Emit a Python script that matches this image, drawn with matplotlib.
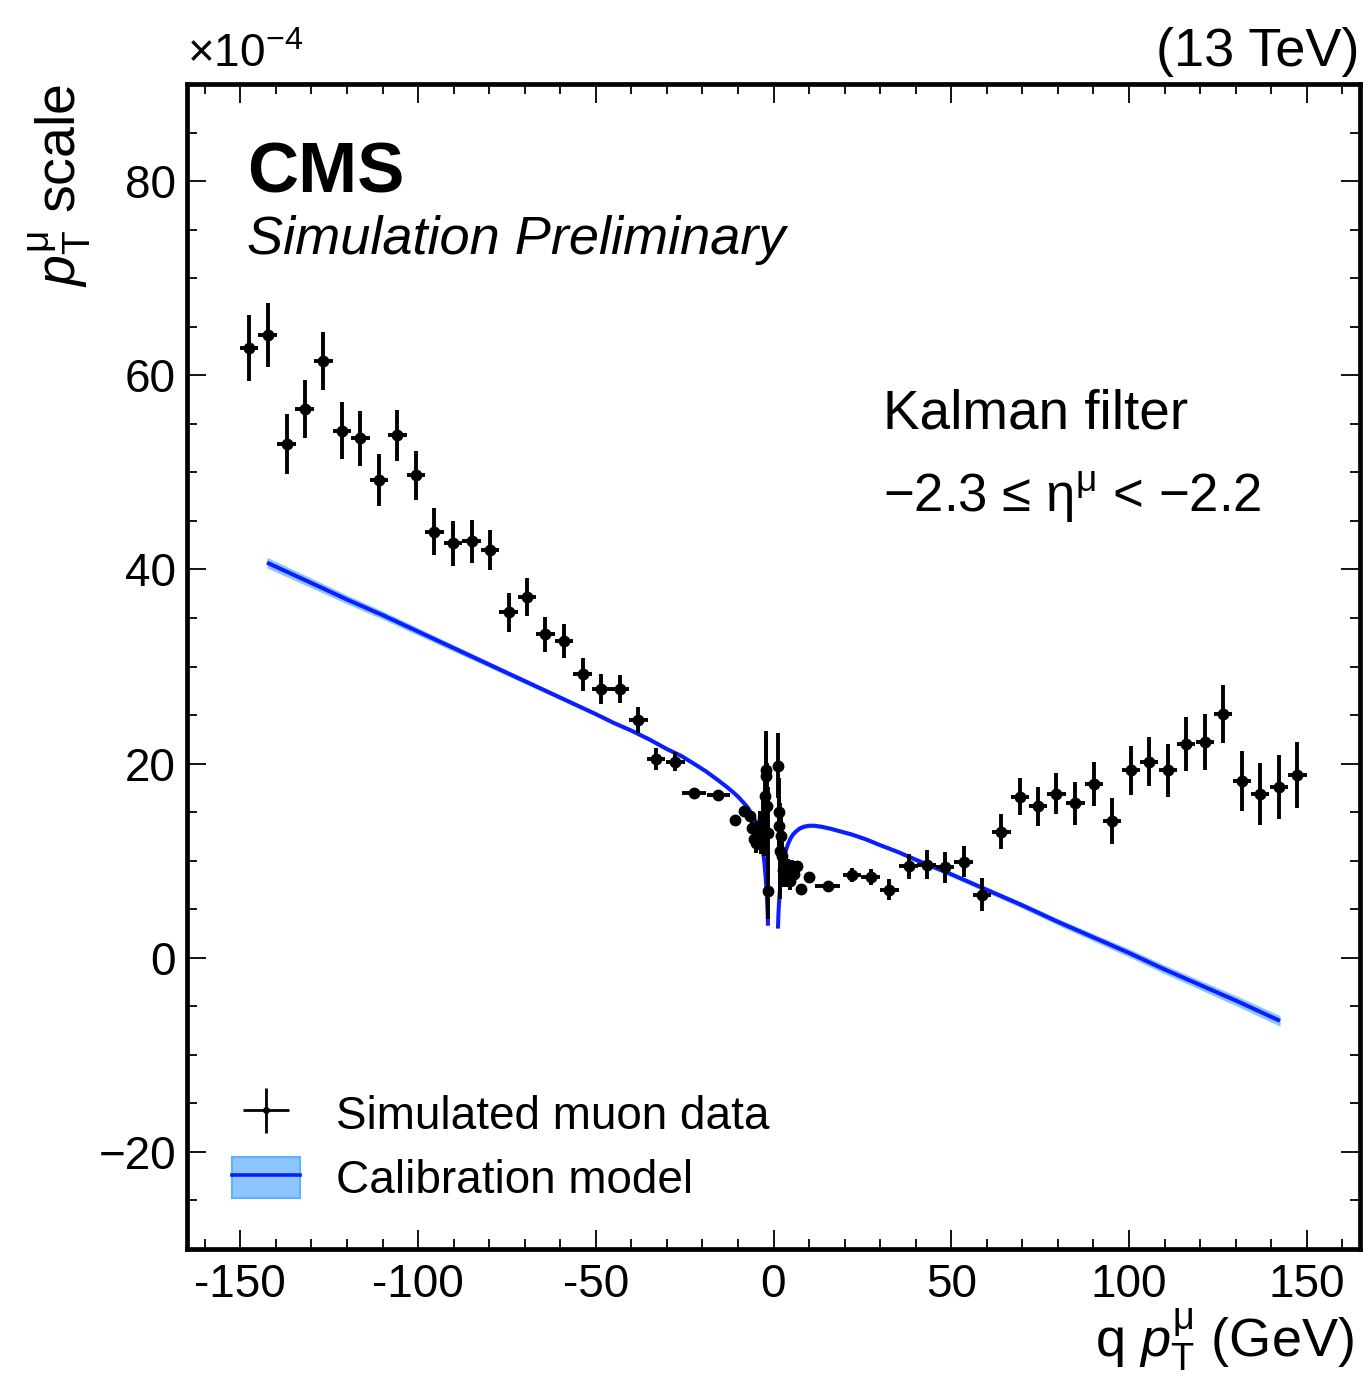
import matplotlib
matplotlib.use("Agg")
import matplotlib.pyplot as plt
import numpy as np
from matplotlib.ticker import MultipleLocator
from matplotlib.patches import Patch
from matplotlib.lines import Line2D

plt.rcParams['font.family'] = ['Liberation Sans', 'DejaVu Sans']
plt.rcParams['mathtext.fontset'] = 'custom'
plt.rcParams['mathtext.rm'] = 'Liberation Sans'
plt.rcParams['mathtext.it'] = 'Liberation Sans:italic'
plt.rcParams['mathtext.bf'] = 'Liberation Sans:bold'

# ---------------- data (pT scale in units of 1e-4) ----------------
data_x = [-147.5, -142.3, -137.0, -131.9, -126.6, -121.4, -116.2, -111.0, -105.8, -100.6,
          -95.4, -90.2, -84.9, -79.8, -74.5, -69.4, -64.2, -59.0, -53.7, -48.4,
          -43.3, -38.0, -33.0, -27.6, -22.4, -15.5, -10.8, -8.2, -6.7,
          -6.0, -5.5, -5.0, -4.6, -4.2, -3.8, -3.4, -3.0, -2.7, -2.4, -2.2, -2.0, -1.8, -1.65, -1.5,
          1.3, 1.45, 1.6, 1.75, 2.0, 2.3, 2.7, 3.1, 3.6, 4.1, 4.6, 5.2, 5.8, 6.5,
          7.8, 10.1, 15.3, 22.1, 27.3, 32.6, 38.0, 43.1, 48.3, 53.5, 58.7,
          64.1, 69.3, 74.4, 79.6, 84.9, 90.2, 95.3, 100.6, 105.7, 111.0,
          116.1, 121.4, 126.5, 131.8, 136.9, 142.2, 147.4]
data_y = [62.8, 64.1, 52.9, 56.5, 61.5, 54.3, 53.5, 49.2, 53.8, 49.7,
          43.9, 42.7, 42.9, 42.0, 35.6, 37.2, 33.3, 32.6, 29.2, 27.7,
          27.7, 24.5, 20.5, 20.2, 17.0, 16.8, 14.2, 15.1, 14.6,
          13.4, 12.2, 11.8, 13.0, 12.4, 13.6, 12.5, 14.3, 12.8, 16.7, 19.3, 18.7, 15.6, 12.8, 6.9,
          19.8, 15.0, 13.6, 11.0, 12.5, 10.5, 9.0, 9.6, 8.5, 9.2, 7.9, 9.4, 8.6, 9.4,
          7.1, 8.3, 7.4, 8.5, 8.3, 7.0, 9.4, 9.6, 9.3, 9.9, 6.5,
          13.0, 16.6, 15.6, 16.9, 15.9, 17.9, 14.1, 19.3, 20.2, 19.3,
          22.0, 22.2, 25.1, 18.2, 16.9, 17.6, 18.8]
data_yerr = [3.4, 3.3, 3.1, 3.0, 3.0, 2.9, 2.8, 2.65, 2.6, 2.5,
             2.4, 2.3, 2.2, 2.1, 2.0, 1.95, 1.85, 1.75, 1.7, 1.55,
             1.45, 1.37, 1.15, 1.0, 0.5, 0.4, 0.45, 0.4, 0.5,
             0.6, 0.8, 1.0, 1.1, 1.3, 1.5, 1.8, 2.0, 2.3, 2.7, 3.2, 4.7, 4.5, 4.8, 2.9,
             3.3, 3.5, 3.0, 4.9, 2.5, 2.0, 1.7, 1.4, 1.2, 1.0, 0.9, 0.7, 0.6, 0.5,
             0.4, 0.3, 0.25, 0.7, 0.85, 1.1, 1.3, 1.45, 1.55, 1.6, 1.7,
             1.8, 1.9, 2.0, 2.1, 2.2, 2.3, 2.4, 2.5, 2.5, 2.7,
             2.75, 2.9, 3.0, 3.1, 3.2, 3.3, 3.4]
data_xerr = [2.6] * 24 + [3.3, 3.3, 1.5, 0.9, 0.6] + \
            [0.35, 0.3, 0.25, 0.2, 0.2, 0.2, 0.2, 0.15, 0.15, 0.1, 0.1, 0.1, 0.1, 0.1, 0.1] + \
            [0.1, 0.1, 0.1, 0.1, 0.1, 0.15, 0.15, 0.2, 0.2, 0.2, 0.25, 0.3, 0.3, 0.35] + \
            [0.6, 1.2, 3.5] + [2.6] * 25

# calibration model curve, negative and positive branches
model_xl = [-142.5, -130, -120, -110, -100, -90, -80, -70, -60, -50, -45, -40, -35, -30,
            -26, -22, -19, -16, -13.5, -11.5, -10, -8.5, -7.3, -6.3, -5.5, -4.8, -4.2,
            -3.7, -3.3, -2.9, -2.6, -2.35, -2.15, -1.95, -1.8, -1.65, -1.55]
model_yl = [40.7, 38.6, 36.9, 35.3, 33.6, 31.9, 30.2, 28.5, 26.8, 25.1, 24.2, 23.4, 22.5, 21.5,
            20.8, 19.9, 19.2, 18.4, 17.7, 17.1, 16.6, 16.0, 15.5, 14.9, 14.4, 13.8, 13.1,
            12.4, 11.7, 10.8, 9.95, 8.9, 8.0, 6.9, 5.9, 4.6, 3.3]
band_l = [0.55, 0.5, 0.46, 0.42, 0.38, 0.34, 0.3, 0.27, 0.24, 0.22] + [0.2] * 27
model_xr = [1.25, 1.4, 1.55, 1.7, 1.9, 2.2, 2.6, 3.0, 3.6, 4.2, 4.8, 5.5, 6.3, 7.3, 8.5,
            10, 11.5, 13.5, 16, 19, 22, 26, 30, 35, 40, 50, 60, 70, 80, 90, 100, 110,
            120, 130, 142.5]
model_yr = [3.0, 4.6, 5.6, 6.5, 7.4, 8.4, 9.5, 10.3, 11.2, 11.8, 12.3, 12.7, 13.0, 13.3, 13.5,
            13.6, 13.6, 13.5, 13.3, 13.0, 12.7, 12.2, 11.6, 10.9, 10.1, 8.6, 7.0, 5.4, 3.7,
            2.1, 0.5, -1.2, -2.8, -4.4, -6.5]
band_r = [0.2] * 24 + [0.22, 0.25, 0.28, 0.31, 0.34, 0.38, 0.42, 0.45, 0.48, 0.52, 0.55]

# ---------------- figure ----------------
W, H = 1363, 1375
fig = plt.figure(figsize=(W / 100, H / 100), dpi=100)
ax = fig.add_axes([187 / W, 1 - 1249 / H, (1360 - 187) / W, (1249 - 84) / H])

band_fc = '#8cc6ff'
band_ec = '#5fb0ff'
line_c = '#0a1eff'

for mx, my, bw in [(model_xl, model_yl, band_l), (model_xr, model_yr, band_r)]:
    mx = np.array(mx); my = np.array(my); bw = np.array(bw)
    ax.fill_between(mx, my - bw, my + bw, color=band_fc, lw=0, zorder=2)
    ax.plot(mx, my, color=line_c, lw=2.9, zorder=3, solid_capstyle='butt',
            solid_joinstyle='round')

ax.errorbar(data_x, data_y, yerr=data_yerr, xerr=data_xerr, fmt='o', color='black',
            ms=7.5, elinewidth=2.8, capsize=0, zorder=4)

ax.set_xlim(-165, 165)
ax.set_ylim(-30, 90)
ax.xaxis.set_minor_locator(MultipleLocator(10))
ax.yaxis.set_minor_locator(MultipleLocator(5))
ax.tick_params(which='both', direction='in', top=True, right=True, width=1.3)
ax.tick_params(which='major', length=14, labelsize=33, pad=10)
ax.tick_params(which='minor', length=7.5)
ax.tick_params(axis='y', which='major', pad=8)
for s in ax.spines.values():
    s.set_linewidth(3.4)

xt = [-150, -100, -50, 0, 50, 100, 150]
ax.set_xticks(xt)
ax.set_xticklabels(['-150', '-100', '-50', '0', '50', '100', '150'])
yt = [-20, 0, 20, 40, 60, 80]
ax.set_yticks(yt)
ax.set_yticklabels(['\u221220', '0', '20', '40', '60', '80'])

ax.set_xlabel(r'q $p_{\mathrm{T}}^{\mathrm{\mu}}$ (GeV)', fontsize=39, loc='right', labelpad=0)
ax.xaxis.label.set_x(0.9945)
ax.set_ylabel(r'$p_{\mathrm{T}}^{\mathrm{\mu}}$ scale', fontsize=40, loc='top', labelpad=4)

ax.text(0.0, 1.006, r'$\times 10^{-4}$', transform=ax.transAxes, fontsize=33,
        ha='left', va='bottom')
ax.text(1.0, 1.006, '(13 TeV)', transform=ax.transAxes, fontsize=39,
        ha='right', va='bottom')
ax.text(0.051, 0.922, 'CMS', transform=ax.transAxes, fontsize=51, fontweight='bold',
        ha='left', va='center')
ax.text(0.051, 0.866, 'Simulation Preliminary', transform=ax.transAxes, fontsize=39,
        style='italic', ha='left', va='center')
ax.text(0.593, 0.716, 'Kalman filter', transform=ax.transAxes, fontsize=39.5,
        ha='left', va='center')
ax.text(0.593, 0.645, '\u22122.3 \u2264 \u03b7$^{\\mathrm{\u03bc}}$ < \u22122.2',
        transform=ax.transAxes, fontsize=38, ha='left', va='center')

h_data = ax.errorbar([], [], yerr=[], xerr=[], fmt='o', color='black', ms=4,
                     elinewidth=2, capsize=0)
h_model = (Patch(facecolor=band_fc, edgecolor=band_ec, lw=1.5),
           Line2D([], [], color=line_c, lw=2.6))
leg = ax.legend([h_data, h_model], ['Simulated muon data', 'Calibration model'],
                loc='lower left', bbox_to_anchor=(0.003, 0.004), fontsize=33,
                frameon=False, handlelength=1.48, handleheight=1.0,
                handletextpad=0.8, labelspacing=0.4)

fig.savefig('out.png', dpi=100)
